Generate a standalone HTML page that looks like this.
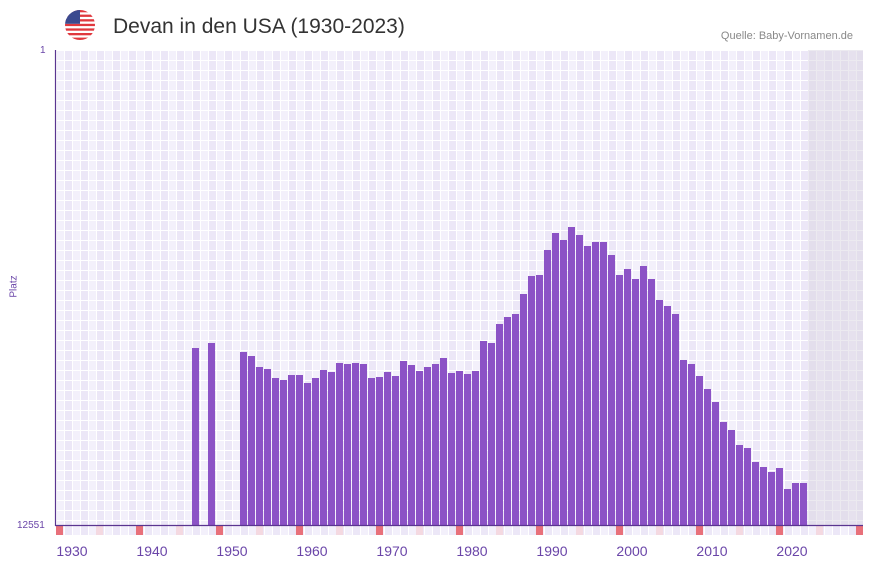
<!DOCTYPE html>
<html><head><meta charset="utf-8"><style>
body{margin:0;width:873px;height:567px;background:#fff;overflow:hidden;position:relative;font-family:"Liberation Sans",sans-serif}
.plot{position:absolute;left:56px;top:50px;width:807px;height:475px;
background:
repeating-linear-gradient(to bottom,#fff 0 1px,transparent 1px 10px),
repeating-linear-gradient(to right,#fff 0 1px,transparent 1px 8px),
repeating-linear-gradient(to right,#f3f0fb 0 8px,#ece7f7 8px 16px);}
.gray{position:absolute;left:808px;top:50px;width:55px;height:475px;
background:
repeating-linear-gradient(to bottom,#eceaf0 0 1px,transparent 1px 10px),
repeating-linear-gradient(to right,#eceaf0 0 1px,transparent 1px 8px),
repeating-linear-gradient(to right,#e3deec 0 8px,#e6e1ee 8px 16px);}
.strip{position:absolute;left:56px;top:526px;width:807px;height:9px;
background:repeating-linear-gradient(to right,#fff 0 1px,transparent 1px 8px),repeating-linear-gradient(to right,#f3f0fb 0 8px,#ece7f7 8px 16px);}
.t{position:absolute;color:#6a45a8;font-size:14px}
</style></head><body>
<div class="plot"></div><div class="gray"></div><div class="strip"></div>
<svg width="873" height="567" style="position:absolute;left:0;top:0">
<g fill="#e8707a">
<rect x="56" y="526" width="7" height="9"/><rect x="136" y="526" width="7" height="9"/><rect x="216" y="526" width="7" height="9"/><rect x="296" y="526" width="7" height="9"/><rect x="376" y="526" width="7" height="9"/><rect x="456" y="526" width="7" height="9"/><rect x="536" y="526" width="7" height="9"/><rect x="616" y="526" width="7" height="9"/><rect x="696" y="526" width="7" height="9"/><rect x="776" y="526" width="7" height="9"/><rect x="856" y="526" width="7" height="9"/>
</g>
<g fill="#f4d9e1">
<rect x="96" y="526" width="7" height="9"/><rect x="176" y="526" width="7" height="9"/><rect x="256" y="526" width="7" height="9"/><rect x="336" y="526" width="7" height="9"/><rect x="416" y="526" width="7" height="9"/><rect x="496" y="526" width="7" height="9"/><rect x="576" y="526" width="7" height="9"/><rect x="656" y="526" width="7" height="9"/><rect x="736" y="526" width="7" height="9"/><rect x="816" y="526" width="7" height="9"/>
</g>
<g fill="#8c53c6" id="b"></g>
<line x1="55.5" y1="50" x2="55.5" y2="526" stroke="#5a3590" stroke-width="1.2"/>
<line x1="55" y1="525.5" x2="863" y2="525.5" stroke="#5a3590" stroke-width="1.2"/>
<g>
<clipPath id="c"><circle cx="80" cy="25" r="15"/></clipPath>
<g clip-path="url(#c)">
<rect x="65" y="10" width="30" height="30" fill="#fff"/>
<rect x="65" y="10" width="30" height="2.3" fill="#e0383e"/><rect x="65" y="14.6" width="30" height="2.3" fill="#e0383e"/><rect x="65" y="19.2" width="30" height="2.3" fill="#e0383e"/><rect x="65" y="23.8" width="30" height="2.3" fill="#e0383e"/><rect x="65" y="28.4" width="30" height="2.3" fill="#e0383e"/><rect x="65" y="33" width="30" height="2.3" fill="#e0383e"/><rect x="65" y="37.6" width="30" height="2.4" fill="#e0383e"/>
<rect x="65" y="10" width="15" height="13.8" fill="#3b4a8f"/>
</g></g>
</svg>
<script>
var d=[[192,348],[208,343],[240,352],[248,356],[256,367],[264,369],[272,378],[280,380],[288,375],[296,375],[304,383],[312,378],[320,370],[328,372],[336,363],[344,364],[352,363],[360,364],[368,378],[376,377],[384,372],[392,376],[400,361],[408,365],[416,371],[424,367],[432,364],[440,358],[448,373],[456,371],[464,374],[472,371],[480,341],[488,343],[496,324],[504,317],[512,314],[520,294],[528,276],[536,275],[544,250],[552,233],[560,240],[568,227],[576,235],[584,246],[592,242],[600,242],[608,255],[616,275],[624,269],[632,279],[640,266],[648,279],[656,300],[664,306],[672,314],[680,360],[688,364],[696,376],[704,389],[712,402],[720,422],[728,430],[736,445],[744,448],[752,462],[760,467],[768,472],[776,468],[784,489],[792,483],[800,483]];
var s='';d.forEach(function(p){s+='<rect x="'+p[0]+'" y="'+p[1]+'" width="7" height="'+(525-p[1])+'"/>';});
document.getElementById('b').innerHTML=s;
</script>
<div class="t" style="left:113px;top:15px;font-size:21px;color:#333">Devan in den USA (1930-2023)</div>
<div class="t" style="right:20px;top:30px;font-size:11px;color:#888">Quelle: Baby-Vornamen.de</div>
<div class="t" style="left:40px;top:45px;font-size:10px">1</div>
<div class="t" style="left:17px;top:520px;font-size:10px">12551</div>
<div class="t" style="left:-2px;top:281px;font-size:10px;transform:rotate(-90deg);width:32px;text-align:center">Platz</div>
<div class="t" style="left:52px;top:543px;width:40px;text-align:center">1930</div>
<div class="t" style="left:132px;top:543px;width:40px;text-align:center">1940</div>
<div class="t" style="left:212px;top:543px;width:40px;text-align:center">1950</div>
<div class="t" style="left:292px;top:543px;width:40px;text-align:center">1960</div>
<div class="t" style="left:372px;top:543px;width:40px;text-align:center">1970</div>
<div class="t" style="left:452px;top:543px;width:40px;text-align:center">1980</div>
<div class="t" style="left:532px;top:543px;width:40px;text-align:center">1990</div>
<div class="t" style="left:612px;top:543px;width:40px;text-align:center">2000</div>
<div class="t" style="left:692px;top:543px;width:40px;text-align:center">2010</div>
<div class="t" style="left:772px;top:543px;width:40px;text-align:center">2020</div>
</body></html>
